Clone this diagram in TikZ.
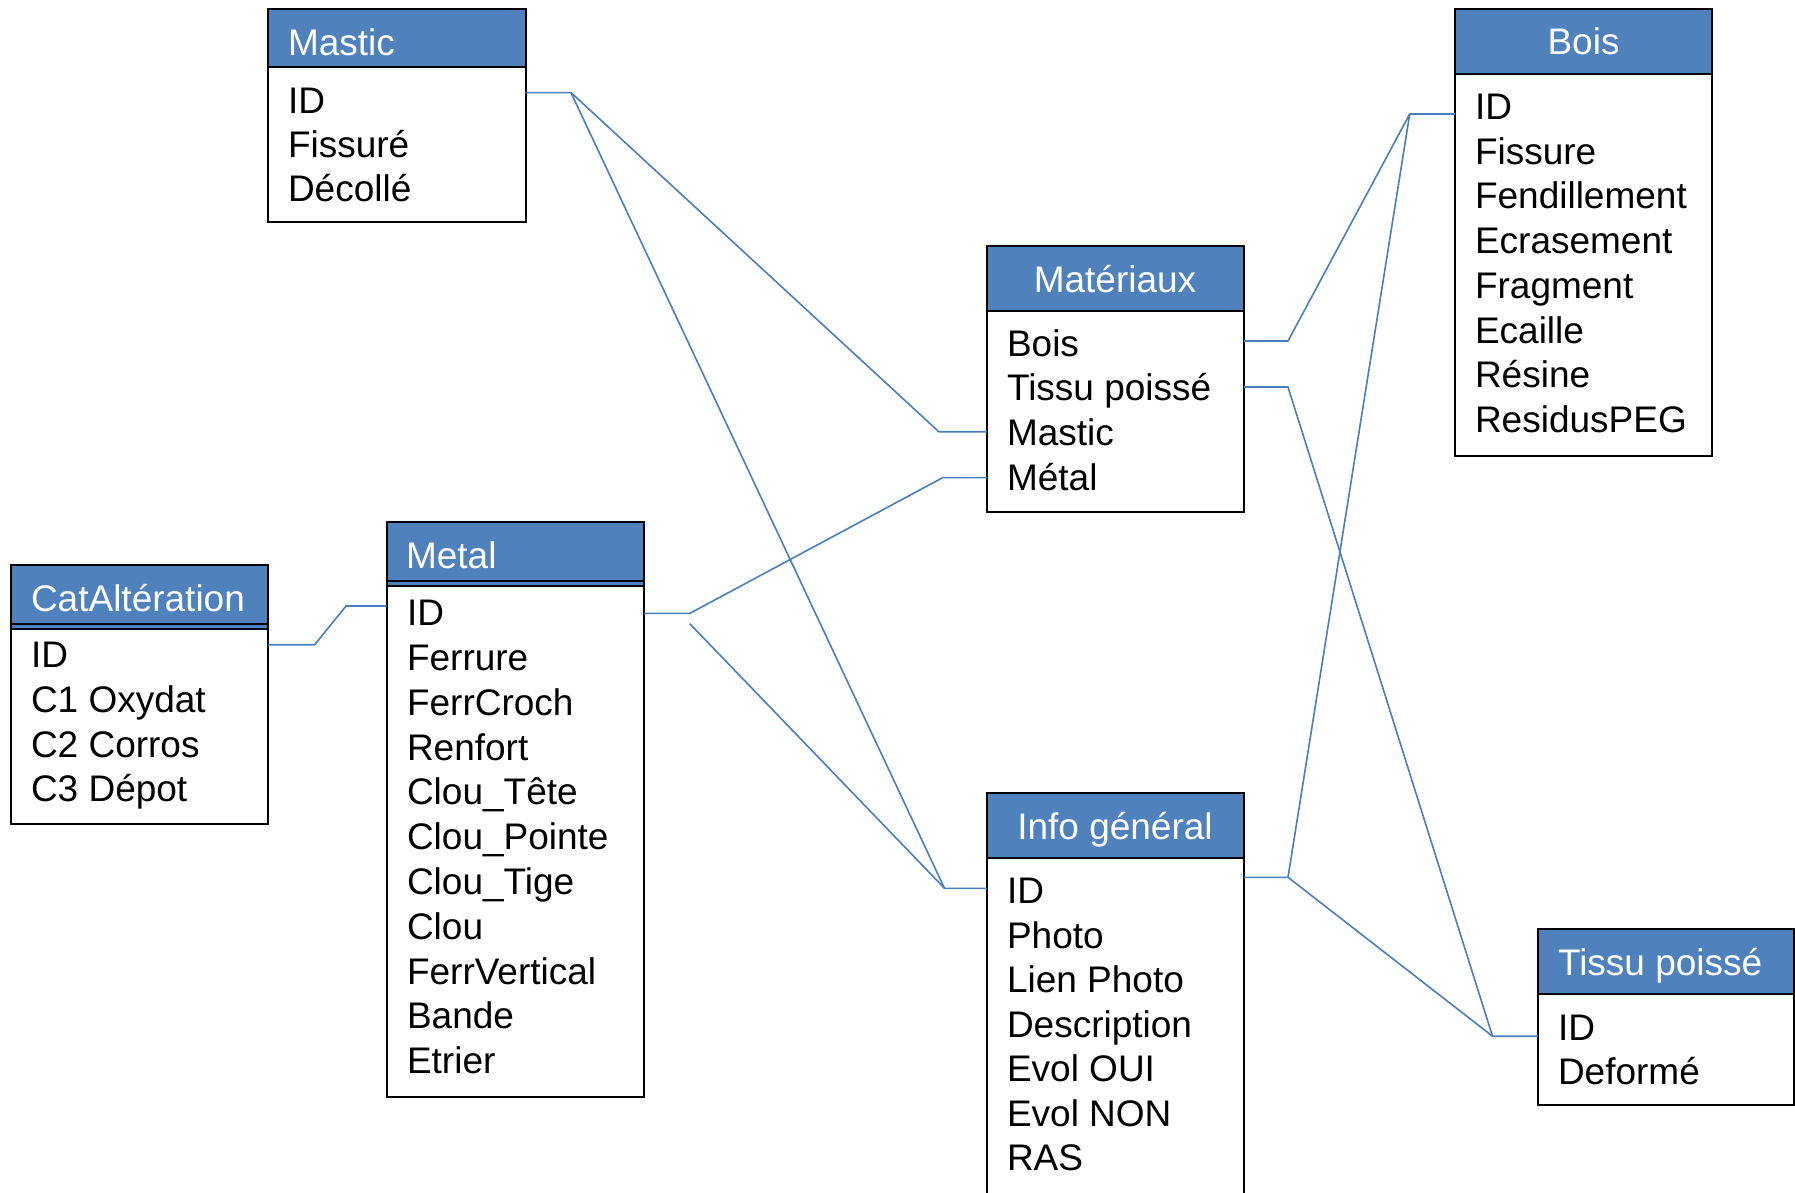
\documentclass[tikz,border=0pt]{standalone}
\usepackage{fontspec}
\setmainfont{Liberation Sans}
\definecolor{hdrblue}{HTML}{4F81BD}
\definecolor{lnblue}{HTML}{4A7EBB}
\tikzset{
  tblbody/.style={draw=black, line width=2pt, fill=white, anchor=north west, inner sep=0pt, outer sep=0pt},
  tblhdr/.style={draw=black, line width=2pt, fill=hdrblue, anchor=north west, inner sep=0pt, outer sep=0pt},
  ttl/.style={text=white, font=\fontsize{37}{44}\selectfont, inner sep=0pt, outer sep=0pt},
  rowtxt/.style={text=black, font=\fontsize{37}{44}\selectfont, inner sep=0pt, outer sep=0pt, anchor=base west},
  link/.style={draw=lnblue, line width=1.6pt, line join=round},
}
\newcommand\mktbl[6]{%
  \pgfmathsetmacro\tw{#3-#2}\pgfmathsetmacro\hh{#5-#4}\pgfmathsetmacro\bh{#6-#5}%
  \node[tblbody, minimum width=\tw pt, minimum height=\bh pt] (#1B) at (#2,#5) {};
  \node[tblhdr, minimum width=\tw pt, minimum height=\hh pt] (#1H) at (#2,#4) {};
}
\begin{document}
\begin{tikzpicture}[x=1pt,y=-1pt]
\clip (0,0) rectangle (1795,1192);
\fill[white] (0,0) rectangle (1795,1192);

% tables
\mktbl{mast}{268}{525.5}{8.5}{67}{222}
\mktbl{bois}{1455}{1712}{8.5}{74}{455.5}
\mktbl{mat}{987}{1243.5}{245.7}{311}{511.7}
\mktbl{cat}{11}{268}{565.3}{629.3}{823.5}
\mktbl{met}{386.6}{643.8}{522}{586}{1097}
\mktbl{info}{987}{1243.5}{792.6}{857.5}{1240}
\mktbl{tis}{1538}{1794}{929.4}{994.3}{1104.6}
\draw[black, line width=2pt] ([yshift=5.7pt]catH.south west) -- ([yshift=5.7pt]catH.south east);
\draw[black, line width=2pt] ([yshift=5.2pt]metH.south west) -- ([yshift=5.2pt]metH.south east);

% titles
\node[ttl, anchor=base west] (mastT) at (288,55.5) {Mastic};
\node[ttl, anchor=base] (boisT) at (1583.5,54.7) {Bois};
\node[ttl, anchor=base] (matT) at (1115,292.8) {Matériaux};
\node[ttl, anchor=base west] (catT) at (31,611) {CatAltération};
\node[ttl, anchor=base west] (metT) at (406,568.4) {Metal};
\node[ttl, anchor=base] (infoT) at (1115,839.8) {Info général};
\node[ttl, anchor=base west] (tisT) at (1558,975.7) {Tissu poissé};

% rows
\foreach \t [count=\i from 0] in {ID,Fissuré,Décollé}
  \node[rowtxt] (mastR\i) at (288,{113+44.4*\i}) {\t};
\foreach \t [count=\i from 0] in {ID,Fissure,Fendillement,Ecrasement,Fragment,Ecaille,Résine,ResidusPEG}
  \node[rowtxt] (boisR\i) at (1475,{119.4+44.73*\i}) {\t};
\foreach \t [count=\i from 0] in {Bois,Tissu poissé,Mastic,Métal}
  \node[rowtxt] (matR\i) at (1007,{356+44.67*\i}) {\t};
\foreach \t [count=\i from 0] in {ID,C1 Oxydat,C2 Corros,C3 Dépot}
  \node[rowtxt] (catR\i) at (31,{667.7+44.67*\i}) {\t};
\foreach \t [count=\i from 0] in {ID,Ferrure,FerrCroch,Renfort,Clou\symbol{95}Tête,Clou\symbol{95}Pointe,Clou\symbol{95}Tige,Clou,FerrVertical,Bande,Etrier}
  \node[rowtxt] (metR\i) at (407,{625.8+44.79*\i}) {\t};
\foreach \t [count=\i from 0] in {ID,Photo,Lien Photo,Description,Evol OUI,Evol NON,RAS}
  \node[rowtxt] (infoR\i) at (1007,{903.8+44.5*\i}) {\t};
\foreach \t [count=\i from 0] in {ID,Deformé}
  \node[rowtxt] (tisR\i) at (1558,{1040.6+44.1*\i}) {\t};

% connector bend points
\coordinate (mastK) at (571,92.6);
\coordinate (matMasK) at (938.8,431.7);
\coordinate (infoIdK) at (944.5,888.3);
\coordinate (metK) at (689.7,613.4);
\coordinate (metK2) at (689.7,623.6);
\coordinate (matMetK) at (942.8,477.6);
\coordinate (catK) at (314.7,644.7);
\coordinate (catK2) at (346,606);
\coordinate (matBoisK) at (1288,341);
\coordinate (boisK) at (1409.7,114);
\coordinate (matTisK) at (1288,387);
\coordinate (tisK) at (1492.5,1036.2);
\coordinate (infoK) at (1288,877.3);

% connectors
\draw[link] (mastB.east |- mastK) -- (mastK) -- (matMasK) -- (matB.west |- matMasK);
\draw[link] (mastK) -- (infoIdK) -- (infoB.west |- infoIdK);
\draw[link] (metB.east |- metK) -- (metK) -- (matMetK) -- (matB.west |- matMetK);
\draw[link] (metK2) -- (infoIdK);
\draw[link] (catB.east |- catK) -- (catK) -- (catK2) -- (metB.west |- catK2);
\draw[link] (matB.east |- matBoisK) -- (matBoisK) -- (boisK) -- (boisB.west |- boisK);
\draw[link] (matB.east |- matTisK) -- (matTisK) -- (tisK) -- (tisB.west |- tisK);
\draw[link] (infoB.east |- infoK) -- (infoK) -- (boisK);
\draw[link] (infoK) -- (tisK);
\end{tikzpicture}
\end{document}
